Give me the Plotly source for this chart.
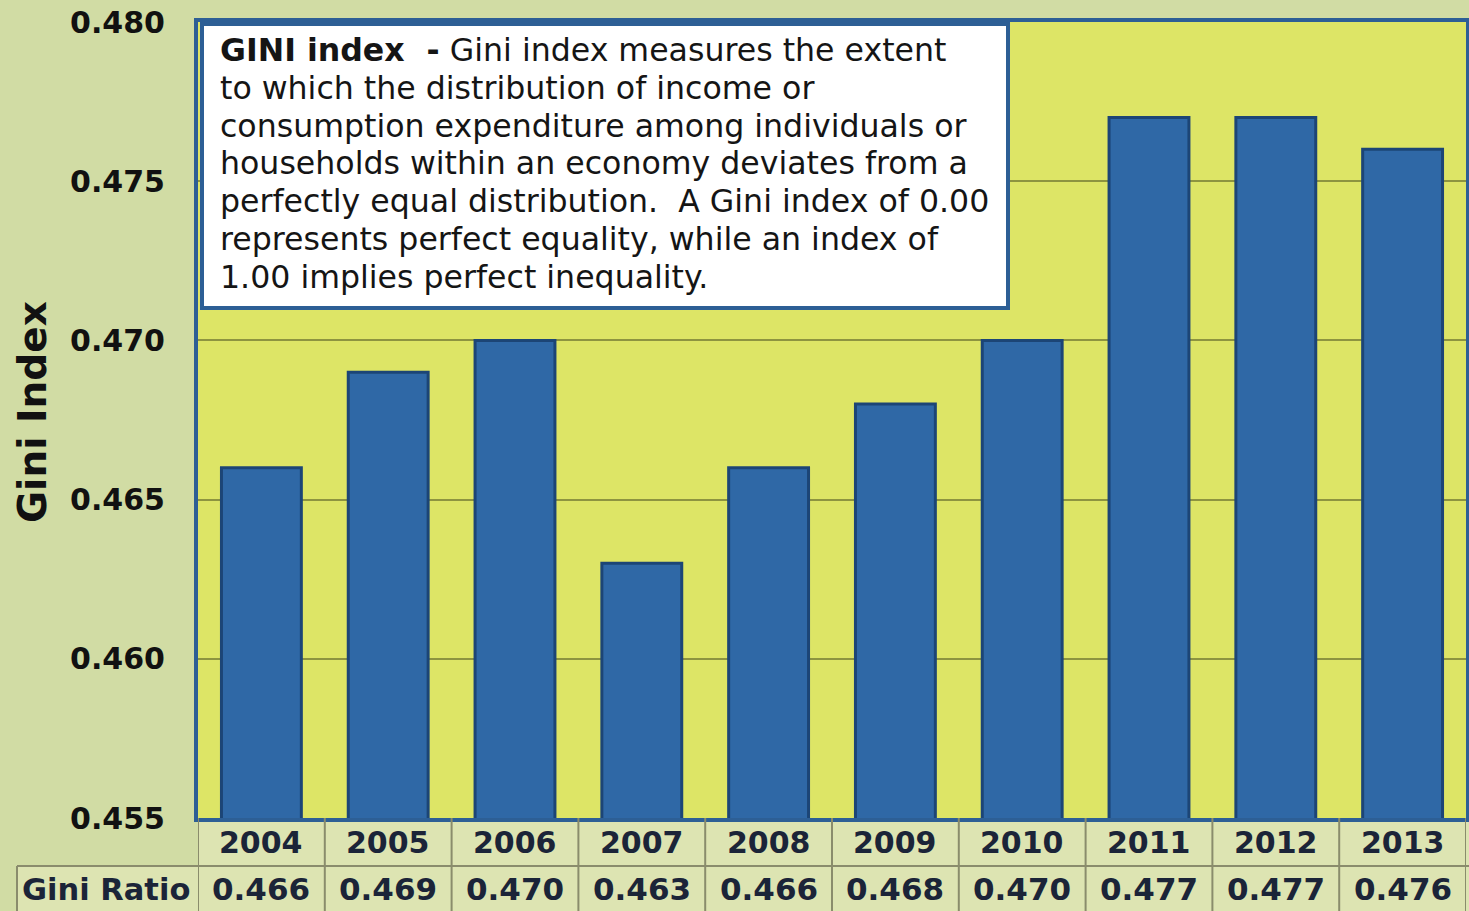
import plotly.graph_objects as go

years = ["2004", "2005", "2006", "2007", "2008", "2009", "2010", "2011", "2012", "2013"]
gini = [0.466, 0.469, 0.470, 0.463, 0.466, 0.468, 0.470, 0.477, 0.477, 0.476]
y_ticks = [0.455, 0.460, 0.465, 0.470, 0.475, 0.480]
row_label = "Gini Ratio"
box_lines = [
    "<b>GINI index  -</b> Gini index measures the extent",
    "to which the distribution of income or",
    "consumption expenditure among individuals or",
    "households within an economy deviates from a",
    "perfectly equal distribution.  A Gini index of 0.00",
    "represents perfect equality, while an index of",
    "1.00 implies perfect inequality.",
]

W, H = 1469, 911
def px_x(x): return x / W
def px_y(y): return (H - y) / H

PAGE_BG = "#d1dca4"
PLOT_BG = "#dde566"
TABLE_BG = "#dde4b2"
BAR = "#2f68a6"
BAR_EDGE = "#1c4576"
FRAME = "#2d5f95"
GRID = "#8d9440"
TLINE = "#8a8c6c"
FONT = "DejaVu Sans"

PL, PR, PT, PB = 198, 1466, 22, 818

fig = go.Figure()
fig.add_trace(go.Bar(
    x=list(range(len(years))), y=gini,
    marker=dict(color=BAR, line=dict(color=BAR_EDGE, width=3)),
    width=0.63,
))

shapes = []
shapes.append(dict(type="rect", xref="paper", yref="paper", x0=px_x(PL), x1=1, y0=0, y1=px_y(PB),
                   fillcolor=TABLE_BG, line=dict(width=0), layer="below"))
shapes.append(dict(type="rect", xref="paper", yref="paper", x0=px_x(17), x1=px_x(PL), y0=0, y1=px_y(866),
                   fillcolor=TABLE_BG, line=dict(width=0), layer="below"))
shapes.append(dict(type="line", xref="paper", yref="paper", x0=px_x(17), x1=1, y0=px_y(866), y1=px_y(866),
                   line=dict(color=TLINE, width=2)))
shapes.append(dict(type="line", xref="paper", yref="paper", x0=px_x(17), x1=px_x(17), y0=0, y1=px_y(866),
                   line=dict(color=TLINE, width=2)))
for i in range(len(years) + 1):
    shapes.append(dict(type="line", xref="x", yref="paper", x0=i - 0.5, x1=i - 0.5, y0=0, y1=px_y(PB),
                       line=dict(color=TLINE, width=2)))
shapes.append(dict(type="rect", xref="paper", yref="paper", x0=px_x(202), x1=px_x(1008), y0=px_y(308), y1=px_y(24),
                   fillcolor="white", line=dict(color=FRAME, width=4), layer="above"))

annotations = []
for i, ln in enumerate(box_lines):
    annotations.append(dict(xref="paper", yref="paper", x=px_x(218), y=px_y(50 + i * 37.8),
                            xanchor="left", yanchor="middle", showarrow=False, text=ln,
                            font=dict(family=FONT, size=31.6, color="#151515")))
for i, (yr, g) in enumerate(zip(years, gini)):
    annotations.append(dict(xref="x", yref="paper", x=i, y=px_y(842), xanchor="center", yanchor="middle",
                            showarrow=False, text=f"<b>{yr}</b>",
                            font=dict(family=FONT, size=30, color="#1b2438")))
    annotations.append(dict(xref="x", yref="paper", x=i, y=px_y(889), xanchor="center", yanchor="middle",
                            showarrow=False, text=f"<b>{g:.3f}</b>",
                            font=dict(family=FONT, size=31, color="#1b2438")))
annotations.append(dict(xref="paper", yref="paper", x=px_x(106), y=px_y(889), xanchor="center", yanchor="middle",
                        showarrow=False, text=f"<b>{row_label}</b>",
                        font=dict(family=FONT, size=30.5, color="#1b2438")))
annotations.append(dict(xref="paper", yref="paper", x=px_x(32), y=px_y(412), xanchor="center", yanchor="middle",
                        showarrow=False, text="<b>Gini Index</b>", textangle=-90,
                        font=dict(family=FONT, size=39, color="#111111")))

fig.update_layout(
    template="none",
    width=W, height=H,
    margin=dict(l=0, r=0, t=0, b=0, pad=0, autoexpand=False),
    paper_bgcolor=PAGE_BG, plot_bgcolor=PLOT_BG,
    showlegend=False,
    shapes=shapes, annotations=annotations,
    xaxis=dict(domain=[px_x(PL), px_x(PR)], range=[-0.5, len(years) - 0.5], automargin=False,
               showticklabels=False, showgrid=False, zeroline=False, ticks="",
               showline=True, mirror=True, linecolor=FRAME, linewidth=4, fixedrange=True),
    yaxis=dict(domain=[px_y(PB), px_y(PT)], range=[0.455, 0.480], automargin=False,
               tickvals=y_ticks, ticktext=[f"<b>{v:.3f}</b>" for v in y_ticks],
               tickfont=dict(family=FONT, size=30, color="#111111"),
               ticklabelstandoff=23, ticks="",
               showgrid=True, gridcolor=GRID, gridwidth=1.5, zeroline=False,
               showline=True, mirror=True, linecolor=FRAME, linewidth=4, fixedrange=True),
)

fig.write_html("out.html")
